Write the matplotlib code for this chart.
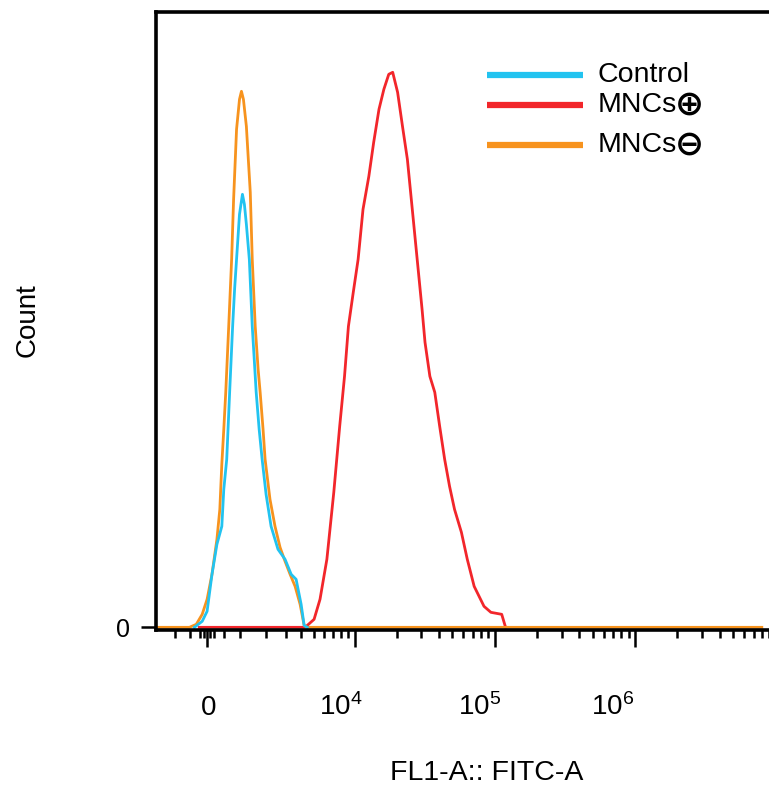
#flow cytometry histogram (FL1-A / FITC-A)
import matplotlib.pyplot as plt
import matplotlib.transforms as mtransforms

plt.rcParams['font.family'] = ['Liberation Sans', 'DejaVu Sans']

#데이터 셋팅 (FL1-A intensity, count)
control_x = [-377, -144, 0, 144, 290, 437, 497, 587, 678, 773, 836, 900, 998, 1098,
             1166, 1236, 1343, 1452, 1528, 1604, 1723, 1846, 2017, 2245, 2586, 2969,
             3332, 3650, 3997, 4217, 4457]
control_y = [0, 1.8, 4.8, 15.9, 24.9, 30.3, 41.4, 50.4, 70.5, 90.3, 101.4, 110.4, 123.9,
             129.9, 126.9, 120.9, 110.4, 90.3, 80.4, 70.5, 59.4, 50.4, 39.9, 30.3, 23.4,
             20.4, 15.9, 14.4, 6.9, 0.6, 0]

plus_x = [-231, 4294, 5025, 5568, 6263, 7044, 7781, 8439, 9008, 9768, 10590, 11487,
          12652, 13709, 14963, 16218, 17580, 18762, 20339, 22042, 23887, 25894, 28063,
          30410, 31916, 34568, 37471, 40607, 44065, 47757, 51807, 58007, 63885, 71500,
          84045, 94080, 112358, 119706]
plus_y = [0, 0, 2.4, 8.4, 20.4, 40.5, 60.3, 75.3, 90.3, 100.5, 110.4, 125.4, 135.3,
          145.5, 155.4, 161.4, 165.9, 166.5, 160.5, 150.3, 140.4, 125.4, 110.4, 95.4,
          85.5, 75.3, 70.5, 60.3, 50.4, 42.3, 35.4, 28.5, 20.4, 12.3, 6.3, 4.5, 3.9, 0]

minus_x = [-1700, -527, -319, -144, 0, 144, 290, 377, 437, 497, 557, 649, 741, 804, 900,
           998, 1064, 1132, 1236, 1306, 1378, 1452, 1566, 1681, 1764, 1886, 1974, 2194,
           2435, 2694, 2969, 3266, 3582, 3924, 4217, 4457, 8000000]
minus_y = [0, 0, 0.9, 3.9, 8.4, 15.9, 26.4, 35.4, 48.9, 59.4, 70.5, 90.3, 110.4, 128.4,
           149.4, 158.4, 160.8, 158.4, 150.3, 140.4, 130.5, 110.4, 90.3, 77.4, 70.5, 59.4,
           50.4, 38.4, 30.3, 24.0, 19.8, 15.9, 12.3, 6.9, 0.6, 0, 0]

major_ticks = [0, 1e4, 1e5, 1e6]
major_labels = ['0', r'$\mathregular{10^4}$', r'$\mathregular{10^5}$', r'$\mathregular{10^6}$']
label_shift = [2, -14, -15, -22]
minor_ticks = ([-1000, -500, -200, -100, 100, 200, 500, 1000]
               + [m * 10 ** e for e in (3, 4, 5, 6) for m in range(2, 10)])

c_cyan = '#22c3f0'
c_red = '#f2262b'
c_orange = '#f7931e'

fig = plt.figure(figsize=(7.69, 7.87), dpi=100)
ax = fig.add_axes([0.2029, 0.1995, 0.7971, 0.7853])
ax.set_xscale('asinh', linear_width=1792)

ax.plot(plus_x, plus_y, color=c_red, lw=2)
ax.plot(minus_x, minus_y, color=c_orange, lw=2)
ax.plot(control_x, control_y, color=c_cyan, lw=2)

ax.set_xlim(-1682, 7.5e6)
ax.set_ylim(-0.8, 184.6)

for s in ['top', 'left', 'bottom']:
    ax.spines[s].set_linewidth(2.6)
ax.spines['right'].set_visible(False)

ax.set_xticks(major_ticks)
ax.set_xticklabels(major_labels)
ax.set_xticks(minor_ticks, minor=True)
ax.tick_params(axis='x', which='major', length=12, width=1.8, pad=49, labelsize=20)
ax.tick_params(axis='x', which='minor', length=6, width=1.8)
for lab, dx in zip(ax.get_xticklabels(), label_shift):
    lab.set_va('baseline')
    lab.set_transform(lab.get_transform() + mtransforms.ScaledTranslation(dx / 100, 0, fig.dpi_scale_trans))

ax.set_yticks([0])
ax.tick_params(axis='y', length=11, width=1.8, pad=8, labelsize=18)

ax.set_xlabel('FL1-A:: FITC-A', fontsize=20.5)
ax.xaxis.set_label_coords(0.54, -0.21)
ax.set_ylabel('Count', fontsize=20)
ax.yaxis.set_label_coords(-0.189, 0.5016)

#범례
rows = [('Control', '', c_cyan), ('MNCs', '\u2295', c_red), ('MNCs', '\u2296', c_orange)]
row_y = [0.898, 0.849, 0.785]
for (name, sym, col), yy in zip(rows, row_y):
    ax.plot([0.5396, 0.6958], [yy, yy], color=col, lw=4.5, transform=ax.transAxes, solid_capstyle='butt')
    t = ax.text(0.7202, yy, name, fontsize=20.5, va='center', ha='left', transform=ax.transAxes)
    if sym:
        ax.annotate(sym, xy=(1, 0.5), xycoords=t, xytext=(-1, 0.5), textcoords='offset points',
                    va='center', ha='left', fontsize=25, fontweight='bold', family='DejaVu Sans')

fig.savefig('out.png', dpi=100)
